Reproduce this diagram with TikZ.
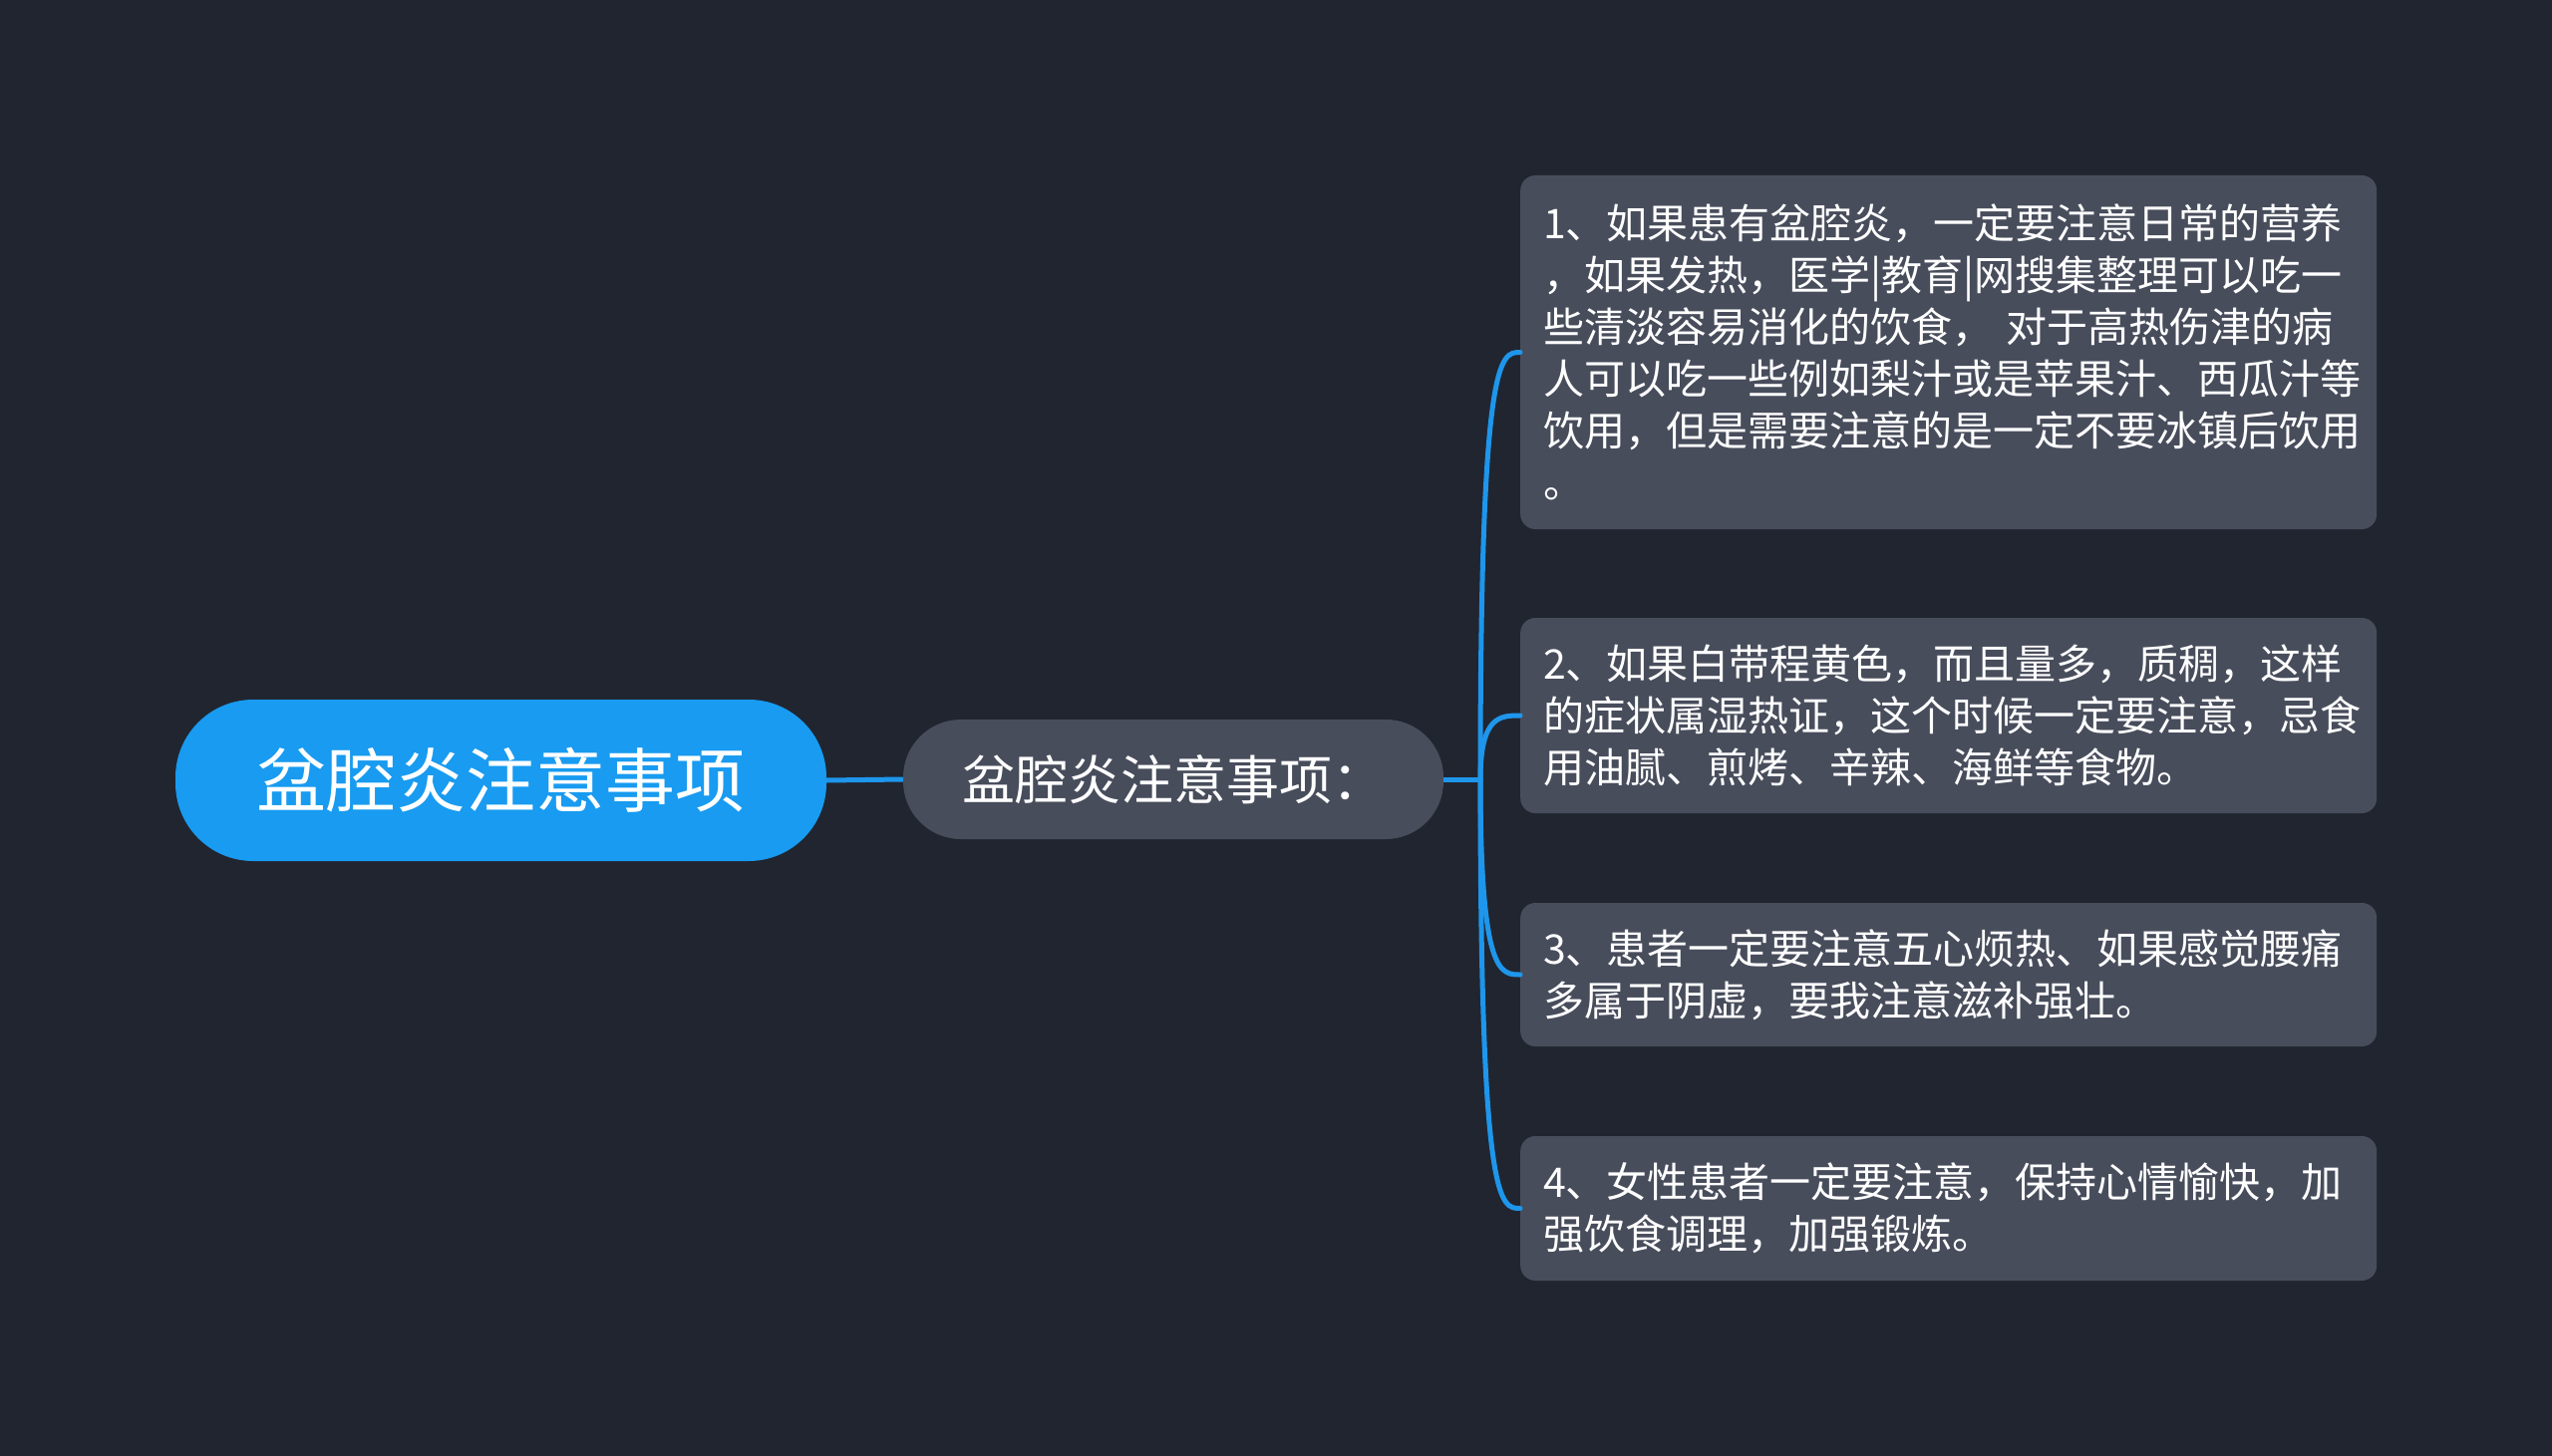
\documentclass[tikz,border=0pt]{standalone}
\usepackage{fontspec}
\setmainfont{Noto Sans CJK SC}
\usetikzlibrary{positioning}
\definecolor{bgc}{RGB}{33,37,48}
\definecolor{rootc}{RGB}{24,155,240}
\definecolor{boxc}{RGB}{72,77,92}
\definecolor{linec}{RGB}{30,150,235}
\tikzset{
  rootbox/.style={fill=rootc, text=white, rounded corners=78pt, minimum width=653pt, minimum height=162pt, inner sep=0pt, font=\fontsize{70}{84}\selectfont},
  midbox/.style={fill=boxc, text=white, rounded corners=58pt, minimum width=542pt, minimum height=120pt, inner sep=0pt, font=\fontsize{53}{64}\selectfont},
  leafbox/.style={fill=boxc, text=white, rounded corners=15pt, text width=813pt, inner xsep=23pt, inner ysep=0pt, align=left, anchor=west, font=\fontsize{41}{52}\selectfont},
  conn/.style={draw=linec, line width=5pt},
}
\begin{document}
\begin{tikzpicture}[x=1pt,y=-1pt]
\fill[bgc] (0,0) rectangle (2560,1461);
\useasboundingbox (0,0) rectangle (2560,1461);
\node[rootbox] (root) at (502.5,783) {盆腔炎注意事项};
\node[midbox] (mid) at (1177,782) {盆腔炎注意事项：};
\coordinate (jn) at (1485,782);
\node[leafbox, minimum height=355pt] (b1) at (1525,353.5) {1、如果患有盆腔炎，一定要注意日常的营养\\，如果发热，医学|教育|网搜集整理可以吃一\\些清淡容易消化的饮食， 对于高热伤津的病\\人可以吃一些例如梨汁或是苹果汁、西瓜汁等\\饮用，但是需要注意的是一定不要冰镇后饮用\\。};
\node[leafbox, minimum height=196pt] (b2) at (1525,718) {2、如果白带程黄色，而且量多，质稠，这样\\的症状属湿热证，这个时候一定要注意，忌食\\用油腻、煎烤、辛辣、海鲜等食物。};
\node[leafbox, minimum height=144pt] (b3) at (1525,978) {3、患者一定要注意五心烦热、如果感觉腰痛\\多属于阴虚，要我注意滋补强壮。};
\node[leafbox, minimum height=145pt] (b4) at (1525,1212.5) {4、女性患者一定要注意，保持心情愉快，加\\强饮食调理，加强锻炼。};
\draw[conn] (root.east) -- (mid.west);
\draw[conn] (mid.east) -- (jn);
\foreach \b in {b1,b2,b3,b4}{
  \draw[conn, line cap=round] (jn) .. controls (jn |- \b.west) and ([xshift=-20pt]\b.west) .. (\b.west);
}
\end{tikzpicture}
\end{document}
